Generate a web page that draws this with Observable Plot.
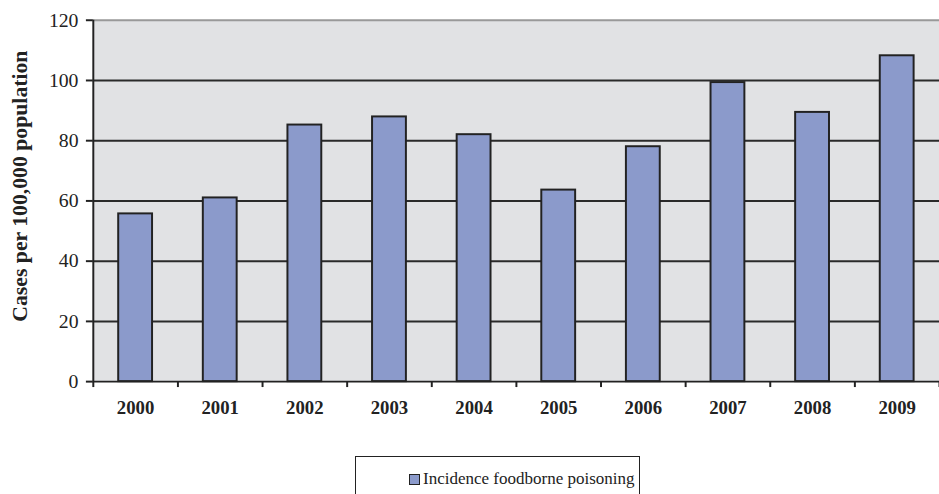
<!DOCTYPE html>
<html>
<head>
<meta charset="utf-8">
<script src="https://cdn.jsdelivr.net/npm/d3@7"></script>
<script src="https://cdn.jsdelivr.net/npm/@observablehq/plot@0.6"></script>
<style>
  html, body { margin: 0; padding: 0; background: #fff; }
  #wrap { position: relative; width: 939px; height: 494px; overflow: hidden; font-family: "Liberation Serif", "Times New Roman", serif; }
  #legend { position: absolute; left: 355px; top: 456px; width: 285px; height: 60px; border: 1.5px solid #222; box-sizing: border-box; background: #fff; }
  #legend .item { position: absolute; left: 53px; top: 12px; font-family: "Liberation Serif", serif; font-size: 17px; color: #222; white-space: nowrap; display: flex; align-items: center; }
  #legend .sw { display: inline-block; width: 9px; height: 9px; background: #8b9acb; border: 1.5px solid #222; margin-right: 3px; }
</style>
</head>
<body>
<div id="wrap"><div id="chart"></div><div id="legend"><div class="item"><span class="sw"></span><span>Incidence foodborne poisoning</span></div></div></div>
<script>
const years = ["2000","2001","2002","2003","2004","2005","2006","2007","2008","2009"];
const incidence = [55.7, 61, 85.2, 87.9, 82, 63.6, 78, 99.3, 89.4, 108.2];
const yTicks = [0, 20, 40, 60, 80, 100, 120];
const seriesName = "Incidence foodborne poisoning";
const yLabel = "Cases per 100,000 population";

const data = years.map((year, i) => ({year, i, value: incidence[i]}));
const font = "'Liberation Serif', 'Times New Roman', serif";

const chart = Plot.plot({
  width: 951,
  height: 494,
  marginLeft: 94,
  marginRight: 0,
  marginTop: 20,
  marginBottom: 108,
  style: {fontFamily: font, color: "#222", background: "transparent", overflow: "visible"},
  x: {domain: [0, years.length], axis: null},
  y: {domain: [0, 120], axis: null},
  marks: [
    Plot.frame({fill: "#e1e2e4", stroke: "none"}),
    Plot.gridY(yTicks.filter(t => t > 0 && t < 120), {stroke: "#2a2a2a", strokeOpacity: 1, strokeWidth: 2}),
    Plot.ruleY([120], {stroke: "#999", strokeWidth: 2}),
    Plot.rectY(data, {x1: d => d.i + 0.3, x2: d => d.i + 0.7, y: "value", fill: "#8b9acb", stroke: "#222", strokeWidth: 2}),
    Plot.ruleX([0], {stroke: "#222", strokeWidth: 2}),
    Plot.ruleY([0], {stroke: "#222", strokeWidth: 2}),
    Plot.axisY({ticks: yTicks, tickSize: 7, tickPadding: 8, fontSize: 20, stroke: "#222", strokeWidth: 2, label: null}),
    Plot.axisX({ticks: d3.range(0, years.length + 1), tickFormat: () => "", tickSize: 6, stroke: "#222", strokeWidth: 2, label: null}),
    Plot.axisX({ticks: years.map((y, i) => i + 0.5), tickFormat: v => years[Math.floor(v)], tickSize: 0, tickPadding: 19, fontSize: 19, fontWeight: "bold", label: null}),
    Plot.text([yLabel], {frameAnchor: "left", dx: -74, dy: -15, rotate: -90, textAnchor: "middle", fontSize: 22, fontWeight: "bold", fill: "#222"})
  ]
});
document.getElementById("chart").appendChild(chart);
</script>
</body>
</html>
